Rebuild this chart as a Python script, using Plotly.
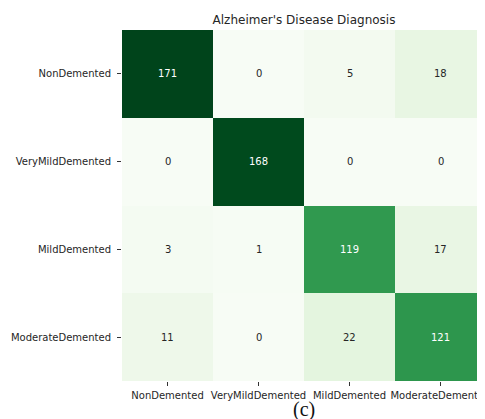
import plotly.graph_objects as go

labels = ["NonDemented", "VeryMildDemented", "MildDemented", "ModerateDemented"]
values = [
    [171, 0, 5, 18],
    [0, 168, 0, 0],
    [3, 1, 119, 17],
    [11, 0, 22, 121],
]
title = "Alzheimer's Disease Diagnosis"
caption = "(c)"

greens = ["#f7fcf5", "#e5f5e0", "#c7e9c0", "#a1d99b", "#74c476",
          "#41ab5d", "#238b45", "#006d2c", "#00441b"]
colorscale = [[i / (len(greens) - 1), c] for i, c in enumerate(greens)]

vmax = max(max(r) for r in values)

fig = go.Figure(go.Heatmap(
    z=values, x=labels, y=labels, colorscale=colorscale,
    zmin=0, zmax=vmax, showscale=False, hoverinfo="skip",
))

annotations = []
for i, row in enumerate(values):
    for j, v in enumerate(row):
        annotations.append(dict(
            x=labels[j], y=labels[i], xref="x", yref="y", text=str(v),
            showarrow=False,
            font=dict(family="DejaVu Sans", size=10,
                      color="white" if v / vmax > 0.55 else "#262626"),
        ))
annotations.append(dict(
    x=0.5, y=0, xref="paper", yref="paper", yanchor="middle", yshift=-28,
    text=caption, showarrow=False,
    font=dict(family="Liberation Serif, DejaVu Serif", size=20, color="#111"),
))

fig.update_layout(
    width=485, height=419,
    margin=dict(l=114, r=7, t=22, b=46, autoexpand=False),
    paper_bgcolor="white", plot_bgcolor="white",
    title=dict(text=title, x=0.5, xref="paper", y=1 - 12 / 419, yref="container",
               xanchor="center", yanchor="middle", automargin=False,
               font=dict(family="DejaVu Sans", size=12, color="#262626")),
    annotations=annotations,
    font=dict(family="DejaVu Sans", size=10, color="#262626"),
)
fig.update_xaxes(ticks="outside", ticklen=4, tickcolor="#333", showgrid=False,
                 zeroline=False, automargin=False, ticklabelstandoff=1,
                 tickfont=dict(size=10, color="#262626"))
fig.update_yaxes(autorange="reversed", ticks="outside", ticklen=4, tickcolor="#333",
                 showgrid=False, zeroline=False, automargin=False, ticklabelstandoff=4,
                 tickfont=dict(size=10, color="#262626"))

fig.write_html("out.html")
